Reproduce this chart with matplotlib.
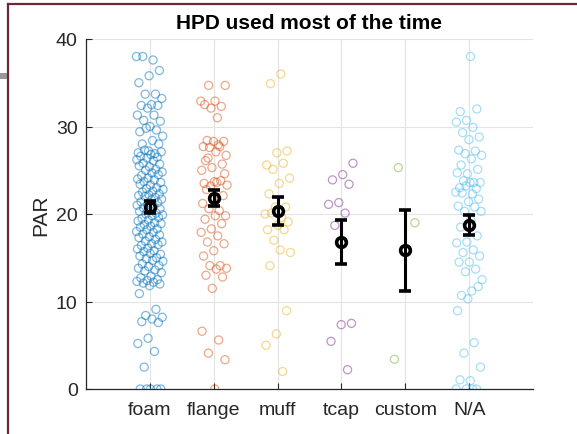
import matplotlib
matplotlib.use("Agg")
import matplotlib.pyplot as plt
from matplotlib.lines import Line2D
import numpy as np

plt.rcParams['font.family'] = ['Liberation Sans', 'DejaVu Sans']

categories = ["foam", "flange", "muff", "tcap", "custom", "N/A"]

foam = [38.0, 37.6, 38.0, 36.4, 35.8, 35.0, 33.7, 33.7, 33.2, 32.5, 32.4, 32.4,
        32.1, 31.3, 31.3, 30.7, 30.6, 30.0, 29.4, 29.6, 29.8, 28.9, 28.4, 28.0,
        28.0, 27.2, 27.0, 26.9, 27.3, 27.1, 26.8, 26.6, 26.5, 26.4,
        26.2, 26.1, 25.8, 25.7, 25.4, 25.5, 25.1, 25.0, 24.8, 24.7, 24.4, 24.5,
        24.1, 24.0, 23.9, 23.7, 23.6, 23.3, 23.4, 23.0, 22.9, 22.8, 22.6, 22.5,
        22.3, 22.2, 22.1, 21.9, 22.0, 21.7, 21.6, 21.4, 21.3, 21.1, 21.0, 20.9,
        20.7, 20.6, 20.4, 20.3, 20.1, 20.0, 19.9, 19.8, 19.5, 19.6, 19.3, 19.2,
        19.0, 18.8, 18.9, 18.6, 18.5, 18.3, 18.2, 18.0, 17.9, 17.7, 17.6, 17.4,
        17.3, 17.1, 16.9, 16.8, 16.6, 16.4, 16.5, 16.1, 16.0, 15.8, 15.7, 15.4,
        15.5, 15.2, 15.0, 14.9, 14.6, 14.7, 14.3, 14.1, 14.0, 13.8, 13.6,
        13.5, 13.3, 12.9, 12.7, 12.5, 12.4, 12.3, 12.2, 12.1, 12.0, 11.8, 10.9,
        9.1, 8.4, 8.2, 8.0, 7.7, 7.6, 5.8, 5.2, 4.3, 2.5, 0, 0, 0, 0, 0]

flange = [34.7, 34.7, 32.9, 32.5, 32.3, 32.1, 32.9, 31.0, 28.4, 28.3, 28.3, 27.7,
          27.7, 27.6, 26.7, 27.1, 26.1, 25.7, 25.3, 25.0, 27.9, 26.4, 24.6,
          23.7, 23.5, 23.8, 23.2, 23.3, 23.6, 22.8, 22.1, 21.8, 21.2, 20.4, 20.6,
          19.8, 19.8, 19.4, 18.9, 18.3, 17.9, 17.5, 16.8, 16.6, 15.8, 15.2, 14.1,
          14.1, 13.8, 13.7, 13.0, 12.8, 11.5, 6.6, 5.6, 4.1, 3.35, 0]

muff = [36.0, 34.9, 27.2, 27.0, 25.6, 25.8, 25.1, 24.1, 23.5, 22.3, 20.8, 20.8,
        20.0, 19.6, 20.1, 19.1, 18.7, 18.2, 18.2, 17.0, 15.6, 15.9, 14.1, 8.95,
        6.3, 5.0, 2.0]

tcap = [25.8, 24.5, 23.9, 23.4, 21.3, 21.1, 20.1, 18.7, 7.5, 7.35, 5.45, 2.2]

custom = [25.3, 19.0, 15.8, 3.4]

na = [38.0, 31.7, 32.0, 30.7, 30.5, 29.9, 29.3, 28.8, 28.5, 27.3, 27.2, 26.9,
      26.7, 26.3, 25.6, 25.1, 24.6, 24.7, 23.6, 23.8, 23.6, 23.6, 23.0, 22.9,
      23.2, 22.5, 22.3, 22.4, 21.7, 21.4, 20.9, 20.8, 20.3, 20.3, 19.3, 18.5,
      17.5, 16.8, 16.7, 15.9, 15.6, 15.2, 14.5, 14.5, 13.7, 13.4, 12.5, 11.2,
      10.7, 11.7, 10.3, 8.95, 5.3, 4.1, 2.5, 0.95, 1.05, 0, 0, 0, 0]

means = [20.8, 21.85, 20.4, 16.8, 15.85, 18.75]
sems = [0.65, 0.95, 1.6, 2.5, 4.6, 1.15]

colors = ["#0072BD", "#D95319", "#EDB120", "#7E2F8E", "#77AC30", "#4DBEEE"]
series = [foam, flange, muff, tcap, custom, na]

fig = plt.figure(figsize=(5.77, 4.35), dpi=100)
ax = fig.add_axes([86/577, 45/435, 447/577, 350/435])

golden = 0.6180339887
for k, (vals, col) in enumerate(zip(series, colors)):
    vals = np.asarray(vals, dtype=float)
    idx = np.arange(len(vals))
    jit = ((idx * golden + 0.31 * k) % 1.0 - 0.5) * 0.42
    ax.scatter(k + 1 + jit, vals, s=34, facecolors='none', edgecolors=col,
               linewidths=0.9, alpha=0.5, zorder=2)

xpos = np.arange(1, len(categories) + 1)
ax.errorbar(xpos, means, yerr=sems, fmt='o', color='black', ecolor='black',
            elinewidth=2.2, capsize=4, capthick=2.2, markersize=7,
            markerfacecolor='none', markeredgewidth=2.6, zorder=5)

ax.set_xlim(0, 7)
ax.set_ylim(0, 40)
ax.set_xticks(xpos)
ax.set_xticklabels(categories)
ax.set_yticks([0, 10, 20, 30, 40])
ax.grid(True, color='#e3e3e3', linewidth=0.8)
ax.set_axisbelow(True)
for s in ['top', 'right']:
    ax.spines[s].set_visible(False)
for s in ['left', 'bottom']:
    ax.spines[s].set_color('#262626')
    ax.spines[s].set_linewidth(0.9)
ax.tick_params(direction='in', length=4, width=0.8, colors='#262626',
               labelsize=14, pad=6)
ax.tick_params(axis='x', pad=9)
ax.set_ylabel("PAR", fontsize=15, color='#262626', labelpad=4)
ax.set_title("HPD used most of the time", fontsize=15, fontweight='bold',
             pad=8)

# outer frame
fig.add_artist(Line2D([8/577, 8/577], [0, 1 - 5/435], transform=fig.transFigure,
                      color='#6b2a35', linewidth=1.6))
fig.add_artist(Line2D([8/577, 1], [1 - 5/435, 1 - 5/435], transform=fig.transFigure,
                      color='#6b2a35', linewidth=1.6))
fig.add_artist(plt.Rectangle((0, 1 - 80/435), 8/577, 6/435, transform=fig.transFigure,
                             color='#999999', linewidth=0))

fig.savefig("out.png", dpi=100)
